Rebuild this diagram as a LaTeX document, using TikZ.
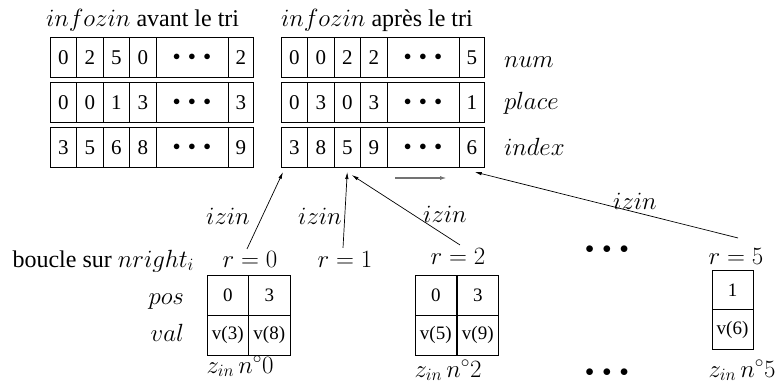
\documentclass[tikz,border=0pt]{standalone}
\usepackage[no-math]{fontspec}
\setmainfont{Liberation Serif}
\usetikzlibrary{arrows.meta}
\newcommand\mydots[1]{$\scriptstyle\bullet\mkern#1mu\bullet\mkern#1mu\bullet$}
\newcommand\cellrow[8]{%
  \node[cell,minimum width=26.5pt] (#1-1) at (#2,#3) {#4};
  \node[cell,minimum width=26.5pt] (#1-2) at ({#2+26.5},#3) {#5};
  \node[cell,minimum width=26.5pt] (#1-3) at ({#2+53},#3) {#6};
  \node[cell,minimum width=26.5pt] (#1-4) at ({#2+79.5},#3) {#7};
  \node[cell,minimum width=72pt] (#1-5) at ({#2+106},#3) {\mydots{10}};
  \node[cell,minimum width=25.5pt] (#1-6) at ({#2+178},#3) {#8};}
\begin{document}
\begin{tikzpicture}[x=1pt,y=-1pt,
  every node/.style={inner sep=0pt, outer sep=0pt, font=\fontsize{24}{28}\selectfont},
  cell/.style={draw, line width=0.9pt, anchor=north west, minimum height=39.5pt, font=\fontsize{21}{21}\selectfont},
  zcell/.style={draw, line width=0.9pt, anchor=north west, minimum width=41.5pt, minimum height=39.75pt, font=\fontsize{19}{19}\selectfont},
  arr/.style={line width=0.7pt, -{Latex[length=7pt,width=3.5pt]}},
  garr/.style={line width=1.5pt, draw=black!55, -{Latex[length=7pt,width=4pt]}},
  lab/.style={anchor=base}]
\useasboundingbox (0,0) rectangle (781,383);
% titles
\node[anchor=west] (t1) at (46,20) {$infozin$ avant le tri};
\node[anchor=west] (t2) at (281,20) {$infozin$ apr\`es le tri};
% left array
\cellrow{L1}{50}{37.5}{0}{2}{5}{0}{2}
\cellrow{L2}{50}{82.5}{0}{0}{1}{3}{3}
\cellrow{L3}{50}{127.5}{3}{5}{6}{8}{9}
% right array
\cellrow{R1}{281}{37.5}{0}{0}{2}{2}{5}
\cellrow{R2}{281}{82.5}{0}{3}{0}{3}{1}
\cellrow{R3}{281}{127.5}{3}{8}{5}{9}{6}
% field names
\node[anchor=west] (fnum) at (504,62) {$num$};
\node[anchor=west] (fplace) at (504,103) {$place$};
\node[anchor=west] (findex) at (504,147) {$index$};
% loop labels
\node[anchor=base east] (loop) at (194,267) {boucle sur $nright_i$};
\node[lab] (r0) at (250,267) {$r=0$};
\node[lab] (r1) at (345,267) {$r=1$};
\node[lab] (r2) at (458,264) {$r=2$};
\node[lab] (r5) at (736,264) {$r=5$};
\node (mdots) at (607,250) {\mydots{9}};
% izin labels
\node (i0) at (228,216) {$izin$};
\node (i1) at (320,216) {$izin$};
\node (i2) at (445,214) {$izin$};
\node (i5) at (635,201) {$izin$};
% arrows
\draw[arr] ([shift={(-3,-2)}]r0.north) -- ([shift={(2,5)}]R3-1.south west);
\draw[arr] ([shift={(-2,-3)}]r1.north) -- ([shift={(0,5)}]R3-3.south);
\draw[arr] ([shift={(2,-3)}]r2.north) -- ([shift={(4.5,8)}]R3-3.south);
\draw[arr] ([shift={(2,-10)}]r5.north) -- ([shift={(3,5)}]R3-6.south);
\draw[garr] ([shift={(-28,11)}]R3-5.south) -- ([shift={(24,11)}]R3-5.south);
% zone boxes
\node[anchor=base east] (pos) at (184,304) {$pos$};
\node[anchor=base east] (val) at (184,341) {$val$};
\node[zcell] (b0p1) at (207,275.5) {0};
\node[zcell] (b0p2) at (248.5,275.5) {3};
\node[zcell] (b0v1) at (207,315.25) {v(3)};
\node[zcell] (b0v2) at (248.5,315.25) {v(8)};
\node[zcell] (b2p1) at (415,275.5) {0};
\node[zcell] (b2p2) at (457,275.5) {3};
\node[zcell] (b2v1) at (415,315.25) {v(5)};
\node[zcell] (b2v2) at (457,315.25) {v(9)};
\node[zcell, minimum width=41pt] (b5p) at (712,270) {1};
\node[zcell, minimum width=41pt] (b5v) at (712,309.75) {v(6)};
% zone names
\node[lab] (z0) at (240,373) {$z_{in}\,n^\circ 0$};
\node[lab] (z2) at (448,377) {$z_{in}\,n^\circ 2$};
\node[lab] (z5) at (742,377) {$z_{in}\,n^\circ 5$};
\node (bdots) at (607,373) {\mydots{9}};
\end{tikzpicture}
\end{document}
